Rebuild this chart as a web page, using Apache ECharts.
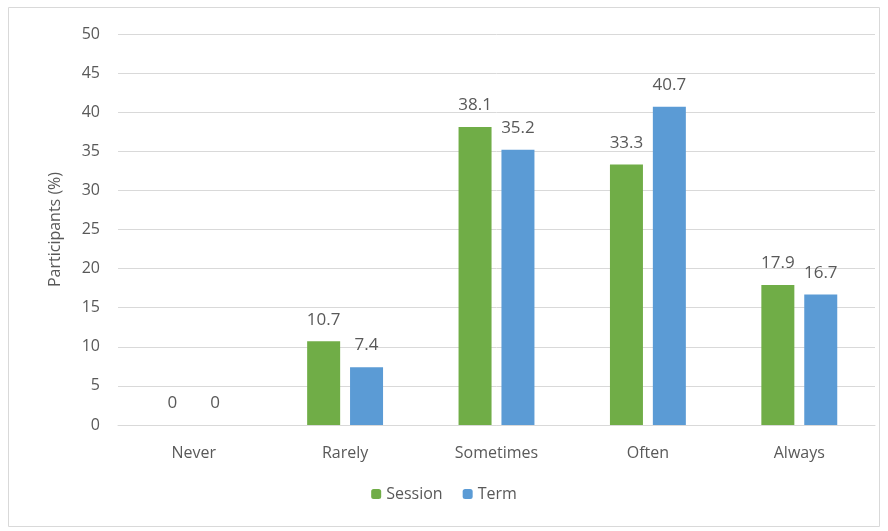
<!DOCTYPE html>
<html>
<head>
<meta charset="utf-8">
<script src="https://cdn.jsdelivr.net/npm/echarts@6/dist/echarts.min.js"></script>
<style>
  html, body { margin: 0; padding: 0; background: #fff; }
  #chart { width: 888px; height: 531px; }
</style>
</head>
<body>
<div id="chart"></div>
<script>
  const categories = ["Never", "Rarely", "Sometimes", "Often", "Always"];
  const sessionData = [0, 10.7, 38.1, 33.3, 17.9];
  const termData = [0, 7.4, 35.2, 40.7, 16.7];

  const font = "'Open Sans', 'Noto Sans', sans-serif";
  const labelStyle = {
    show: true,
    position: "top",
    distance: 13,
    color: "#595959",
    fontSize: 17,
    fontFamily: font,
  };

  const chart = echarts.init(document.getElementById("chart"));
  const option = {
    animation: false,
    textStyle: { fontFamily: font },
    graphic: [
      {
        type: "rect",
        shape: { x: 8.5, y: 7.5, width: 871, height: 519 },
        style: { fill: "none", stroke: "#d9d9d9", lineWidth: 1 },
        silent: true,
      },
    ],
    grid: { left: 118, right: 13, top: 34, bottom: 106 },
    legend: {
      bottom: 24,
      left: "center",
      itemWidth: 10,
      itemHeight: 10,
      itemGap: 20,
      textStyle: { color: "#595959", fontSize: 16, fontFamily: font },
      data: ["Session", "Term"],
    },
    xAxis: {
      type: "category",
      data: categories,
      axisTick: { show: false },
      axisLine: { lineStyle: { color: "#d9d9d9" } },
      axisLabel: { color: "#595959", fontSize: 16, margin: 20, fontFamily: font },
    },
    yAxis: {
      type: "value",
      min: 0,
      max: 50,
      interval: 5,
      name: "Participants (%)",
      nameLocation: "middle",
      nameGap: 55,
      nameTextStyle: { color: "#595959", fontSize: 16, fontFamily: font },
      axisLabel: { color: "#595959", fontSize: 16, margin: 18, fontFamily: font },
      splitLine: { lineStyle: { color: "#d9d9d9" } },
    },
    series: [
      {
        name: "Session",
        type: "bar",
        data: sessionData,
        barWidth: 33,
        barGap: "30%",
        itemStyle: { color: "#70AD47" },
        label: labelStyle,
      },
      {
        name: "Term",
        type: "bar",
        data: termData,
        barWidth: 33,
        itemStyle: { color: "#5B9BD5" },
        label: labelStyle,
      },
    ],
  };
  chart.setOption(option);
</script>
</body>
</html>
